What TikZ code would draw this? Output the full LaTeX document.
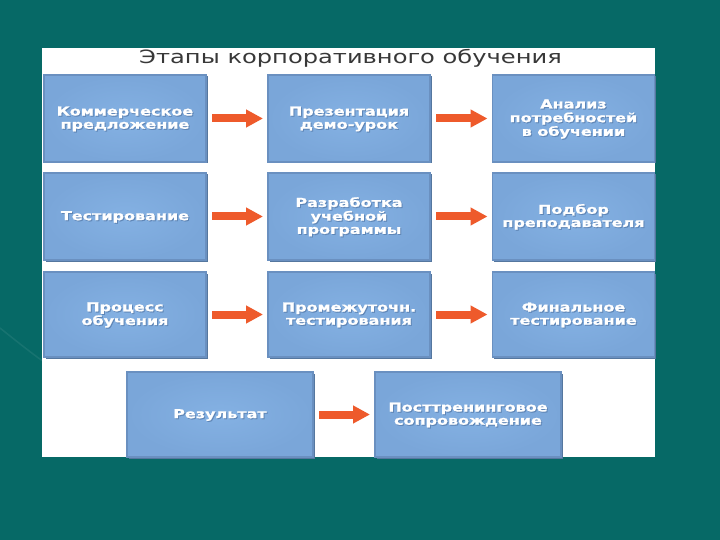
\documentclass[tikz,border=0pt]{standalone}
\usepackage{fontspec}
\usetikzlibrary{arrows.meta}
\setmainfont{DejaVu Sans}
\newfontfamily\boxfont[FakeStretch=1.3,FakeBold=1.2]{DejaVu Sans Bold}
\newfontfamily\titlefont[FakeStretch=1.32]{DejaVu Sans}
\definecolor{teal}{HTML}{066966}
\definecolor{boxin}{HTML}{84B1E3}
\definecolor{boxout}{HTML}{7AA6D9}
\definecolor{boxedge}{HTML}{6A90C0}
\definecolor{boxshadow}{HTML}{55779F}
\definecolor{txtshadow}{HTML}{5F86B6}
\definecolor{arrowcol}{HTML}{EE5A2B}
\definecolor{titlecol}{HTML}{383838}
\newcommand\shtxt[1]{\raisebox{-1.5pt}[\height][\depth]{\makebox[0pt][l]{\raisebox{-1pt}{\hspace{1pt}\color{txtshadow}\begin{tabular}{@{}c@{}}#1\end{tabular}}}\begin{tabular}{@{}c@{}}#1\end{tabular}}}
\tikzset{
  stagebox/.style={rectangle, minimum width=162pt, minimum height=87pt, inner sep=0pt, outer sep=0pt,
    shading=radial, inner color=boxin, outer color=boxout, draw=boxedge, line width=1.6pt,
    text=white, font=\boxfont\fontsize{12.3}{13.2}\selectfont, align=center,
    preaction={fill=boxshadow, transform canvas={shift={(1.5pt,-1.5pt)}}}},
  flowarrow/.style={draw=arrowcol, line width=8pt, -{Triangle[length=17pt,width=17pt]}, shorten <=6pt, shorten >=5pt}
}
\begin{document}
\begin{tikzpicture}[x=1pt,y=-1pt]
\useasboundingbox (0,0) rectangle (720,540);
\fill[teal] (0,0) rectangle (720,540);
\draw[color=teal!80!white, opacity=0.35, line width=1.5pt] (0,328) .. controls (15,340) and (30,352) .. (44,362);
\fill[white] (42,48) rectangle (655,457);
\node[text=titlecol, font=\titlefont\fontsize{18.3}{20}\selectfont, inner sep=0pt] (title) at (350.5,58) {Этапы корпоративного обучения};
% row 1
\node[stagebox] (k1) at (125,118.5) {\shtxt{Коммерческое\\предложение}};
\node[stagebox] (k2) at (349,118.5) {\shtxt{Презентация\\демо-урок}};
\node[stagebox] (k3) at (573.5,118.5) {\shtxt{Анализ\\потребностей\\в обучении}};
% row 2
\node[stagebox] (k4) at (125,216.5) {\shtxt{Тестирование}};
\node[stagebox] (k5) at (349,216.5) {\shtxt{Разработка\\учебной\\программы}};
\node[stagebox] (k6) at (573.5,216.5) {\shtxt{Подбор\\преподавателя}};
% row 3
\node[stagebox, minimum height=85pt] (k7) at (125,314.5) {\shtxt{Процесс\\обучения}};
\node[stagebox, minimum height=85pt] (k8) at (349,314.5) {\shtxt{Промежуточн.\\тестирования}};
\node[stagebox, minimum height=85pt] (k9) at (573.5,314.5) {\shtxt{Финальное\\тестирование}};
% row 4
\node[stagebox, minimum width=186pt, minimum height=85pt] (k10) at (220,414.5) {\shtxt{Результат}};
\node[stagebox, minimum width=186pt, minimum height=85pt] (k11) at (468,414.5) {\shtxt{Посттренинговое\\сопровождение}};
% arrows
\draw[flowarrow] (k1) -- (k2);
\draw[flowarrow] (k2) -- (k3);
\draw[flowarrow] (k4) -- (k5);
\draw[flowarrow] (k5) -- (k6);
\draw[flowarrow] (k7) -- (k8);
\draw[flowarrow] (k8) -- (k9);
\draw[flowarrow] (k10) -- (k11);
\end{tikzpicture}
\end{document}
